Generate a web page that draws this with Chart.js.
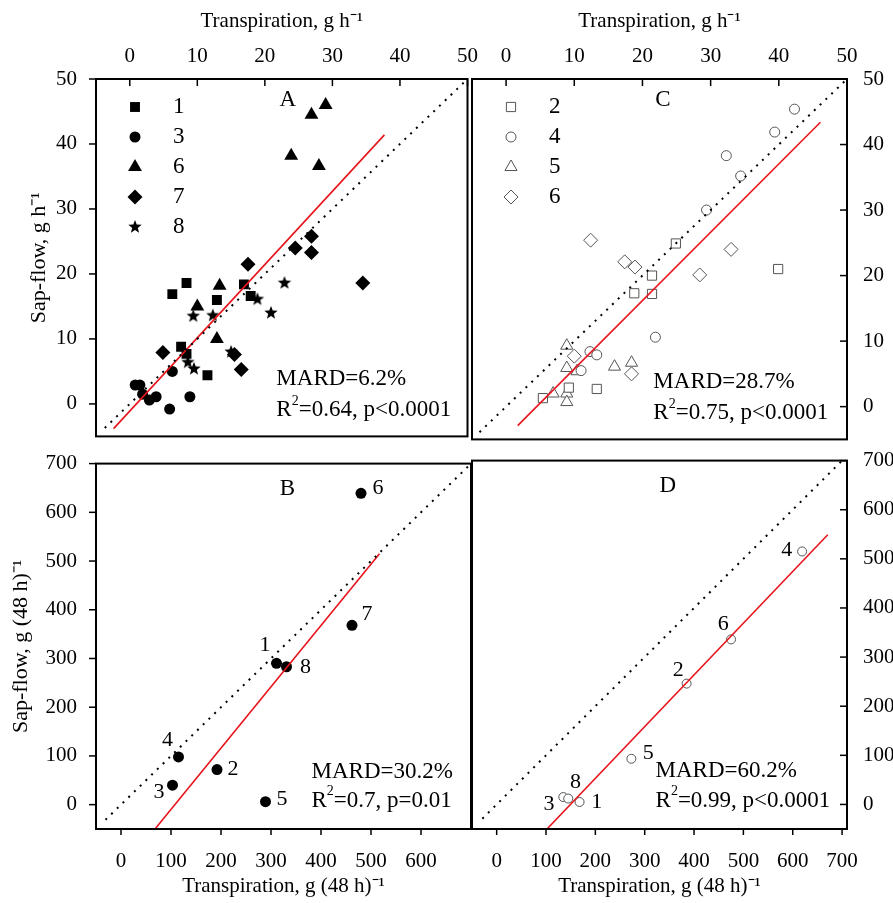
<!DOCTYPE html>
<html><head><meta charset="utf-8">
<script src="https://cdn.jsdelivr.net/npm/chart.js@4.4.0/dist/chart.umd.min.js"></script>
<style>
body{margin:0;background:#fff;width:893px;height:903px;position:relative;overflow:hidden}
canvas{position:absolute}
</style></head><body>
<canvas id="cA" width="480" height="460" style="left:0;top:0"></canvas>
<canvas id="cC" width="433" height="460" style="left:460px;top:0"></canvas>
<canvas id="cB" width="480" height="463" style="left:0;top:440px"></canvas>
<canvas id="cD" width="433" height="463" style="left:460px;top:440px"></canvas>
<script>
// ---- Panel A data (hourly, filled markers) ----
const A_tree1 = [[8.4,18.6],[6.3,16.9],[12.9,16.0],[16.9,18.4],[17.9,16.6],[7.6,8.8],[8.4,7.7],[11.5,4.4]];
const A_tree3 = [[0.8,2.9],[1.5,2.9],[1.9,1.5],[2.9,0.6],[3.9,1.1],[6.3,5.0],[5.9,-0.8],[8.9,1.1]];
const A_tree6 = [[29.0,46.0],[26.9,44.5],[23.9,38.2],[28.0,36.6],[13.3,18.2],[10.0,15.0],[12.9,10.0]];
const A_tree7 = [[17.5,21.5],[26.9,25.8],[24.5,24.0],[26.9,23.3],[34.5,18.6],[4.9,7.9],[15.5,7.6],[16.5,5.3]];
const A_tree8 = [[9.4,13.5],[12.3,13.6],[18.9,16.1],[20.9,14.0],[22.9,18.6],[8.6,6.4],[9.5,5.4],[15.0,8.0]];
const A_fit = [[-2.4,-3.8],[37.7,41.4]];
const A_oneToOne = [[-3.7,-3.7],[50,50]];
// ---- Panel C data (hourly, open markers) ----
const C_tree2 = [[24.9,24.9],[21.4,20.0],[18.8,17.3],[21.4,17.2],[39.9,21.0],[5.4,1.3],[9.2,2.9],[13.3,2.7]];
const C_tree4 = [[42.3,45.4],[39.4,41.9],[32.3,38.3],[34.4,35.2],[29.4,30.0],[21.9,10.6],[12.3,8.4],[13.3,7.9],[11.0,5.5]];
const C_tree5 = [[8.9,9.3],[8.9,5.9],[10.4,5.4],[15.9,6.1],[18.4,6.7],[6.9,2.0],[8.9,2.0],[8.9,0.7]];
const C_tree6 = [[12.4,25.4],[17.4,22.1],[18.9,21.3],[28.4,20.1],[33.0,24.0],[10.0,7.7],[18.4,5.0]];
const C_fit = [[1.7,-2.9],[46.1,43.4]];
const C_oneToOne = [[-3.9,-3.9],[50,50]];
// ---- Panel B data (48 h totals) ----
const B_trees = ['1','2','3','4','5','6','7','8'];
const B_x = [311,192,103,115,289,480,462,331];
const B_y = [290,72,40,98,6,639,368,283];
const B_fit = [[68,-50],[517,515]];
const B_oneToOne = [[-31,-31],[700,700]];
// ---- Panel D data ----
const D_trees = ['1','2','3','4','5','6','8'];
const D_x = [168,385,135,619,273,475,145];
const D_y = [5,246,15,515,93,336,12];
const D_fit = [[102,-50],[671,549]];
const D_oneToOne = [[-29,-29],[706,706]];
// ---- tick labels ----
const hourTicks = [0,10,20,30,40,50];
const dayTicksB = [0,100,200,300,400,500,600];
const dayTicksY = [0,100,200,300,400,500,600,700];
const dayTicksD = [0,100,200,300,400,500,600,700];
// ---- annotations ----
const A_stats = ['MARD=6.2%','R²=0.64, p<0.0001'];
const C_stats = ['MARD=28.7%','R²=0.75, p<0.0001'];
const B_stats = ['MARD=30.2%','R²=0.7, p=0.01'];
const D_stats = ['MARD=60.2%','R²=0.99, p<0.0001'];
const B_labelPos = {'1':[288,327],'2':[224,72],'3':[76,25],'4':[93,132],'5':[322,11],'6':[514,649],'7':[492,390],'8':[369,283]};
const D_labelPos = {'1':[203,5],'2':[368,273],'3':[106,0],'4':[588,517],'5':[307,105],'6':[459,366],'8':[160,46]};

const FONT = '"Liberation Serif","Times New Roman",serif';
const pts = a => a.map(p=>({x:p[0],y:p[1]}));
const zip = (xs,ys) => xs.map((x,i)=>({x:x,y:ys[i]}));

function starImg(r){
  const c=document.createElement('canvas'); c.width=c.height=2*r+2;
  const g=c.getContext('2d'); g.fillStyle='#000'; g.beginPath();
  for(let i=0;i<10;i++){const rad=i%2?r*0.42:r; const a=-Math.PI/2+i*Math.PI/5;
    g.lineTo(r+1+rad*Math.cos(a), r+1+rad*Math.sin(a));}
  g.closePath(); g.fill(); return c;
}
const STAR = starImg(7);

function ds(data, style, filled, r){
  return {type:'scatter', data:pts(data), pointStyle:style, pointRadius:r||5,
    backgroundColor: filled?'#000':'#fff', borderColor: filled?'#000':'#555',
    borderWidth: filled?0:1};
}
function lineDs(data, dotted){
  return {type:'line', data:pts(data), showLine:true, pointRadius:0, fill:false,
    borderColor: dotted?'#000':'#e8141c', borderWidth: dotted?2:1.6,
    borderDash: dotted?[2,6]:[], order:-1};
}

const panelPlugin = {
  id:'panel',
  afterDatasetsDraw(chart){
    const o = chart.options.plugins.panel; const g = chart.ctx; const ca = chart.chartArea;
    const xs = chart.scales.x, ys = chart.scales.y;
    g.save();
    g.strokeStyle='#000'; g.lineWidth=2; g.strokeRect(ca.left,ca.top,ca.right-ca.left,ca.bottom-ca.top);
    g.lineWidth=1.5;
    xs.ticks.forEach(t=>{const px=xs.getPixelForValue(t.value); g.beginPath();
      if(o.xTop){g.moveTo(px,ca.top);g.lineTo(px,ca.top+7);} else {g.moveTo(px,ca.bottom);g.lineTo(px,ca.bottom+6);} g.stroke();});
    ys.ticks.forEach(t=>{const py=ys.getPixelForValue(t.value); g.beginPath();
      if(o.yRight){g.moveTo(ca.right,py);g.lineTo(ca.right-7,py);} else {g.moveTo(ca.left,py);g.lineTo(ca.left-7,py);} g.stroke();});
    g.fillStyle='#000'; g.textBaseline='middle';
    g.font='23px '+FONT; g.textAlign='center';
    g.fillText(o.letter[0], xs.getPixelForValue(o.letter[1]), ys.getPixelForValue(o.letter[2]));
    g.textAlign='left';
    g.font='23px '+FONT;
    const drawStat=(s,x,y)=>{
      if(s.startsWith('R²')){ g.fillText('R',x,y); const w=g.measureText('R').width;
        g.font='14px '+FONT; g.fillText('2',x+w,y-9); g.font='23px '+FONT;
        g.fillText(s.slice(2),x+w+7,y);} else g.fillText(s,x,y);};
    drawStat(o.stats[0], xs.getPixelForValue(o.statPos[0]), ys.getPixelForValue(o.statPos[1]));
    drawStat(o.stats[1], xs.getPixelForValue(o.statPos[0]), ys.getPixelForValue(o.statPos[2]));
    if(o.labels){ g.font='22px '+FONT; g.textAlign='center';
      for(const k in o.labels){ g.fillText(k, xs.getPixelForValue(o.labels[k][0]), ys.getPixelForValue(o.labels[k][1])); } }
    if(o.legend){
      o.legend.forEach((it,i)=>{
        const x=ca.left+39, y=ca.top+28+i*30;
        const d=chart.data.datasets[it.ds];
        if(d.pointStyle instanceof HTMLCanvasElement){ g.drawImage(d.pointStyle,x-d.pointStyle.width/2,y-d.pointStyle.height/2); }
        else {
          g.fillStyle=d.backgroundColor; g.strokeStyle=d.borderColor; g.lineWidth=d.borderWidth||0;
          g.beginPath(); Chart.helpers.drawPoint(g,{pointStyle:d.pointStyle,radius:d.pointRadius,rotation:0,borderWidth:d.borderWidth||0},x,y);
        }
        g.fillStyle='#000'; g.font='23px '+FONT; g.textAlign='left'; g.fillText(it.text, ca.left+77, y);
      });
    }
    g.restore();
  }
};

function scales(o){
  const tf = {family:FONT,size:21};
  return {
    x:{type:'linear', position:o.xTop?'top':'bottom', min:o.xr[0], max:o.xr[1],
      afterBuildTicks:s=>{s.ticks=o.xt.map(v=>({value:v}));},
      afterFit:s=>{s.height=o.xh;},
      grid:{display:false}, border:{display:false},
      ticks:{color:'#000',font:tf,padding:o.xTop?2:12,maxRotation:0,autoSkip:false},
      title:{display:true,text:o.xTitle,color:'#000',font:{family:FONT,size:21},padding:o.xTop?{top:9,bottom:0}:{top:0,bottom:4}}},
    y:{type:'linear', position:o.yRight?'right':'left', min:o.yr[0], max:o.yr[1],
      afterBuildTicks:s=>{s.ticks=o.yt.map(v=>({value:v}));},
      afterFit:s=>{s.width=o.yw;},
      grid:{display:false}, border:{display:false},
      ticks:{color:'#000',font:tf,padding:o.yRight?8:11,autoSkip:false},
      title:{display:!!o.yTitle,text:o.yTitle||'',color:'#000',font:{family:FONT,size:22},padding:{top:o.ytp||0,bottom:0}}}
  };
}
function make(id, datasets, sc, panel, padding){
  new Chart(document.getElementById(id), {
    type:'scatter', data:{datasets},
    options:{responsive:false, animation:false, devicePixelRatio:1, layout:{padding},
      plugins:{legend:{display:false},tooltip:{enabled:false},panel},
      scales:scales(sc)},
    plugins:[panelPlugin]});
}

make('cA', [ds(A_tree1,'rect',true,7), ds(A_tree3,'circle',true,5.5), ds(A_tree6,'triangle',true,8),
  ds(A_tree7,'rectRot',true,7.5), {type:'scatter',data:pts(A_tree8),pointStyle:STAR,pointRadius:7},
  lineDs(A_oneToOne,true), lineDs(A_fit,false)],
  {xTop:true,xr:[-5,50],xt:hourTicks,xh:79,xTitle:'Transpiration, g h⁻¹',yr:[-5,50],yt:hourTicks,yw:96,yTitle:'Sap-flow, g h⁻¹',ytp:26},
  {letter:['A',23.4,46.8],stats:A_stats,statPos:[21.7,3.8,-1.0],xTop:true,
   legend:[{ds:0,text:'1'},{ds:1,text:'3'},{ds:2,text:'6'},{ds:3,text:'7'},{ds:4,text:'8'}]},
  {left:0,right:9,top:0,bottom:7});

make('cC', [ds(C_tree2,'rect',false,6.5), ds(C_tree4,'circle',false,5), ds(C_tree5,'triangle',false,7),
  ds(C_tree6,'rectRot',false,7), lineDs(C_oneToOne,true), lineDs(C_fit,false)],
  {xTop:true,yRight:true,xr:[-5,50],xt:hourTicks,xh:79,xTitle:'Transpiration, g h⁻¹',yr:[-5,50],yt:hourTicks,yw:46},
  {letter:['C',23.0,46.8],stats:C_stats,statPos:[21.6,3.8,-1.0],xTop:true,yRight:true,
   legend:[{ds:0,text:'2'},{ds:1,text:'4'},{ds:2,text:'5'},{ds:3,text:'6'}]},
  {left:12,right:0,top:0,bottom:7});

make('cB', [{type:'scatter',data:zip(B_x,B_y),pointStyle:'circle',pointRadius:5.5,backgroundColor:'#000',borderWidth:0},
  lineDs(B_oneToOne,true), lineDs(B_fit,false)],
  {xr:[-50,700],xt:dayTicksB,xh:74,xTitle:'Transpiration, g (48 h)⁻¹',yr:[-50,700],yt:dayTicksY,yw:96,yTitle:'Sap-flow, g (48 h)⁻¹',ytp:8},
  {letter:['B',333,648],stats:B_stats,statPos:[381,68,8],labels:B_labelPos},
  {left:0,right:9,top:13,bottom:0});

make('cD', [{type:'scatter',data:zip(D_x,D_y),pointStyle:'circle',pointRadius:4.5,backgroundColor:'#fff',borderColor:'#555',borderWidth:1},
  lineDs(D_oneToOne,true), lineDs(D_fit,false)],
  {yRight:true,xr:[-50,710],xt:dayTicksD,xh:74,xTitle:'Transpiration, g (48 h)⁻¹',yr:[-50,700],yt:dayTicksY,yw:46},
  {letter:['D',347,648],stats:D_stats,statPos:[322,68,8],labels:D_labelPos,yRight:true},
  {left:12,right:0,top:13,bottom:0});
</script></body></html>
